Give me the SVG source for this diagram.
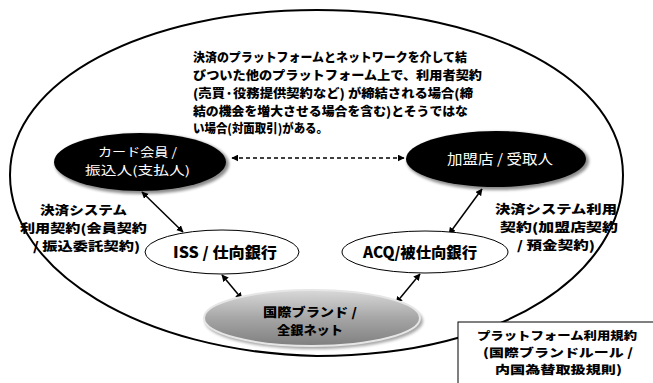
<svg xmlns="http://www.w3.org/2000/svg" width="653" height="383" viewBox="0 0 653 383">
<defs>
<style>
.t{font-family:"Noto Sans CJK JP","Noto Sans",sans-serif;font-weight:900;fill:#000}
.w{font-family:"Noto Sans CJK JP","Noto Sans",sans-serif;font-weight:normal;fill:#fff}
.con{stroke:#000;stroke-width:1.5;fill:none;marker-start:url(#ah);marker-end:url(#ah)}
</style>
<marker id="ah" viewBox="0 0 10 10" refX="9" refY="5" markerWidth="7" markerHeight="7" orient="auto-start-reverse" markerUnits="userSpaceOnUse">
<path d="M0,0 L10,5 L0,10 Z" fill="#000"/>
</marker>
<linearGradient id="gb" x1="0" y1="0" x2="0" y2="1">
<stop offset="0" stop-color="#d9d9d9"/>
<stop offset="0.5" stop-color="#a6a6a6"/>
<stop offset="1" stop-color="#7f7f7f"/>
</linearGradient>
<filter id="blur" x="-10%" y="-10%" width="120%" height="130%">
<feGaussianBlur stdDeviation="1.5"/>
</filter>
</defs>
<rect width="653" height="383" fill="#fff"/>
<g id="platform">
<path d="M317,10 C490,10 623,80 623,175 C623,270 510,356 317,356 C140,352 10,270 10,175 C10,80 145,10 317,10 Z" fill="none" stroke="#000" stroke-width="2"/>
</g>
<g id="description">
<text class="t" font-size="12.4" x="193" y="62" textLength="274" lengthAdjust="spacingAndGlyphs">決済のプラットフォームとネットワークを介して結</text>
<text class="t" font-size="12.4" x="193" y="80" textLength="289" lengthAdjust="spacingAndGlyphs">びついた他のプラットフォーム上で、利用者契約</text>
<text class="t" font-size="12.4" x="193" y="98" textLength="280" lengthAdjust="spacingAndGlyphs">(売買·役務提供契約など) が締結される場合(締</text>
<text class="t" font-size="12.4" x="193" y="116" textLength="275" lengthAdjust="spacingAndGlyphs">結の機会を増大させる場合を含む)とそうではな</text>
<text class="t" font-size="12.4" x="193" y="133" textLength="135" lengthAdjust="spacingAndGlyphs">い場合(対面取引)がある。</text>
</g>
<g id="connectors">
<line x1="232" y1="158" x2="404" y2="158" class="con" stroke-dasharray="4,3"/>
<line x1="142" y1="192" x2="183" y2="232" class="con"/>
<line x1="482" y1="189" x2="449" y2="234" class="con"/>
<line x1="222" y1="275" x2="242" y2="299" class="con"/>
<line x1="420" y1="274" x2="396" y2="303" class="con"/>
</g>
<g id="card">
<ellipse cx="142" cy="164" rx="87" ry="30" fill="#000" opacity="0.45" filter="url(#blur)"/>
<ellipse cx="140" cy="162" rx="86" ry="29" fill="#000"/>
<text class="w" font-size="12.4" x="98" y="157" textLength="79" lengthAdjust="spacingAndGlyphs">カード会員 /</text>
<text class="w" font-size="12.4" x="85" y="175" textLength="105" lengthAdjust="spacingAndGlyphs">振込人(支払人)</text>
</g>
<g id="merchant">
<ellipse cx="498" cy="161" rx="91" ry="29" fill="#000" opacity="0.45" filter="url(#blur)"/>
<ellipse cx="496" cy="159" rx="90" ry="28" fill="#000"/>
<text class="w" font-size="14" x="447" y="164" textLength="106" lengthAdjust="spacingAndGlyphs">加盟店 / 受取人</text>
</g>
<g id="iss">
<ellipse cx="222" cy="252" rx="77" ry="22" fill="#fff" stroke="#000" stroke-width="1"/>
<text class="t" font-size="15" x="173" y="258" textLength="104" lengthAdjust="spacingAndGlyphs">ISS / 仕向銀行</text>
</g>
<g id="acq">
<ellipse cx="425" cy="252" rx="83" ry="21" fill="#fff" stroke="#000" stroke-width="1"/>
<text class="t" font-size="15" x="363" y="258" textLength="114" lengthAdjust="spacingAndGlyphs">ACQ/被仕向銀行</text>
</g>
<g id="brand">
<ellipse cx="314" cy="321" rx="109" ry="28" fill="#000" opacity="0.35" filter="url(#blur)"/>
<ellipse cx="312" cy="318" rx="108" ry="28" fill="url(#gb)" stroke="#e6e6e6" stroke-width="2"/>
<text class="t" font-size="12.4" x="263" y="317" textLength="94" lengthAdjust="spacingAndGlyphs">国際ブランド /</text>
<text class="t" font-size="12.4" x="277" y="335" textLength="66" lengthAdjust="spacingAndGlyphs">全銀ネット</text>
</g>
<g id="left-label">
<text class="t" font-size="12.4" x="40" y="215" textLength="87" lengthAdjust="spacingAndGlyphs">決済システム</text>
<text class="t" font-size="12.4" x="20" y="233" textLength="127" lengthAdjust="spacingAndGlyphs">利用契約(会員契約</text>
<text class="t" font-size="12.4" x="33" y="251" textLength="107" lengthAdjust="spacingAndGlyphs">/ 振込委託契約)</text>
</g>
<g id="right-label">
<text class="t" font-size="12.4" x="495" y="214" textLength="122" lengthAdjust="spacingAndGlyphs">決済システム利用</text>
<text class="t" font-size="12.4" x="500" y="232" textLength="118" lengthAdjust="spacingAndGlyphs">契約(加盟店契約</text>
<text class="t" font-size="12.4" x="517" y="250" textLength="78" lengthAdjust="spacingAndGlyphs">/ 預金契約)</text>
</g>
<g id="rules">
<rect x="458" y="322" width="200" height="70" fill="#fff" stroke="#000" stroke-width="1"/>
<text class="t" font-size="11.7" x="477" y="340" textLength="160" lengthAdjust="spacingAndGlyphs">プラットフォーム利用規約</text>
<text class="t" font-size="11.7" x="483" y="357" textLength="150" lengthAdjust="spacingAndGlyphs">(国際ブランドルール /</text>
<text class="t" font-size="11.7" x="495" y="374" textLength="127" lengthAdjust="spacingAndGlyphs">内国為替取扱規則)</text>
</g>
</svg>
